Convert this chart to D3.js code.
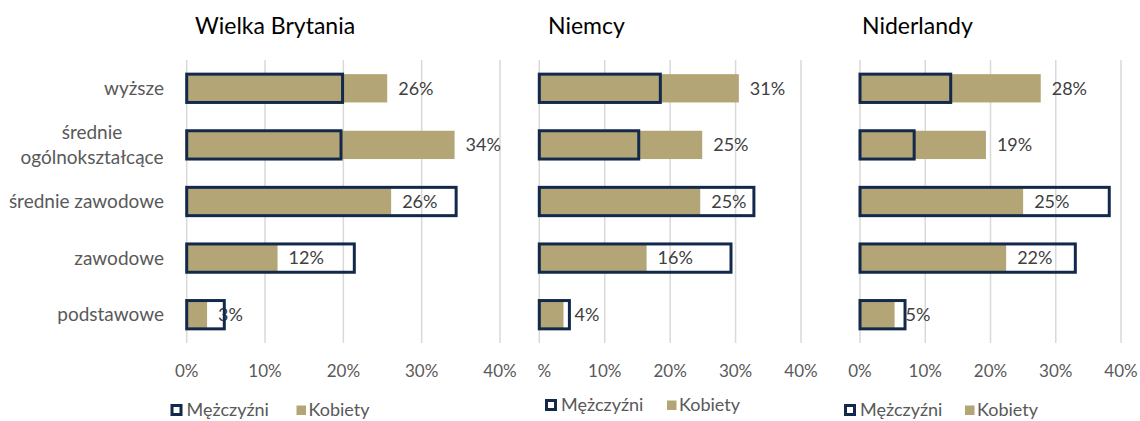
<!DOCTYPE html>
<html>
<head>
    <meta charset="utf-8">
    <title>Wykształcenie - kobiety i mężczyźni</title>
    <style>
        body { margin: 0; background: #fff; }
        svg { font-family: Lato, "Open Sans", sans-serif; }
        .grid line { stroke: #d9d9d9; stroke-width: 1.5; }
        .women { fill: #b3a576; }
        .men { fill: none; stroke: #13294b; stroke-width: 3; }
        .cat { fill: #595959; font-size: 19px; }
        .tick-label { fill: #595959; font-size: 17px; }
        .value { fill: #404040; font-size: 18px; }
        .title { fill: #000; font-size: 23px; }
        .legend text { fill: #595959; font-size: 18px; }
    </style>
</head>
<body>
<div id="chart"></div>
<script src="https://d3js.org/d3.v7.min.js"></script>
<script>
    // dane (w %)
    const categories = ["wyższe", "średnie ogólnokształcące", "średnie zawodowe", "zawodowe", "podstawowe"];
    const countries = ["Wielka Brytania", "Niemcy", "Niderlandy"];
    const seriesNames = ["Mężczyźni", "Kobiety"];
    const ticks = [0, 10, 20, 30, 40];

    const menUK = [19.9, 19.7, 34.4, 21.4, 4.8];
    const womenUK = [25.6, 34.2, 26.1, 11.6, 2.6];
    const menDE = [18.5, 15.2, 32.8, 29.3, 4.6];
    const womenDE = [30.5, 24.9, 24.6, 16.4, 3.7];
    const menNL = [13.9, 8.3, 38.2, 33.0, 6.9];
    const womenNL = [27.7, 19.3, 25.0, 22.4, 5.3];

    const men = [menUK, menDE, menNL];
    const women = [womenUK, womenDE, womenNL];

    // układ paneli
    const panels = [
        { x0: 186.7, x1: 500, clip: 0, titleX: 195, legX: 170.5, legY: 410, legGap: 126 },
        { x0: 539.3, x1: 801, clip: 537, titleX: 548, legX: 545, legY: 405, legGap: 122 },
        { x0: 860, x1: 1121, clip: 0, titleX: 862, legX: 844, legY: 410, legGap: 121 }
    ];
    const W = 1140, H = 421;
    const plotTop = 60, plotBottom = 343;

    const svg = d3.select("#chart").append("svg")
        .attr("width", W)
        .attr("height", H);

    const y = d3.scaleBand()
        .domain(categories)
        .range([plotTop, plotBottom])
        .paddingInner(0.5)
        .paddingOuter(0.25);

    // etykiety kategorii
    const cat = svg.append("g").selectAll("text")
        .data(categories)
        .join("text")
        .attr("class", "cat")
        .attr("text-anchor", "end")
        .attr("x", 164)
        .attr("y", d => y(d) + y.bandwidth() / 2)
        .attr("dy", "0.35em");
    cat.filter(d => d !== "średnie ogólnokształcące").text(d => d);
    cat.filter(d => d === "średnie ogólnokształcące").each(function() {
        const t = d3.select(this).attr("text-anchor", "middle").attr("x", 92).attr("dy", null);
        t.append("tspan").attr("x", 92).attr("dy", "-0.3em").text("średnie");
        t.append("tspan").attr("x", 92).attr("dy", "1.3em").text("ogólnokształcące");
    });

    panels.forEach((p, k) => {
        const x = d3.scaleLinear().domain([0, 40]).range([p.x0, p.x1]);
        const g = svg.append("g");

        if (p.clip) {
            svg.append("clipPath").attr("id", "clip" + k)
                .append("rect").attr("x", p.clip).attr("y", 0).attr("width", W - p.clip).attr("height", H);
            g.attr("clip-path", "url(#clip" + k + ")");
        }

        // linie siatki
        g.append("g").attr("class", "grid").selectAll("line")
            .data(ticks)
            .join("line")
            .attr("x1", d => x(d)).attr("x2", d => x(d))
            .attr("y1", plotTop).attr("y2", plotBottom);

        // etykiety osi
        g.append("g").selectAll("text")
            .data(ticks)
            .join("text")
            .attr("class", "tick-label")
            .attr("text-anchor", "middle")
            .attr("x", d => x(d))
            .attr("y", 371)
            .attr("dy", "0.35em")
            .text(d => d + "%");

        // słupki kobiet
        g.append("g").selectAll("rect")
            .data(women[k])
            .join("rect")
            .attr("class", "women")
            .attr("x", x(0))
            .attr("y", (d, i) => y(categories[i]))
            .attr("width", d => x(d) - x(0))
            .attr("height", y.bandwidth());

        // etykiety wartości
        g.append("g").selectAll("text")
            .data(women[k])
            .join("text")
            .attr("class", "value")
            .attr("x", d => x(d) + 11)
            .attr("y", (d, i) => y(categories[i]) + y.bandwidth() / 2)
            .attr("dy", "0.35em")
            .text(d => Math.round(d) + "%");

        // obrys mężczyzn
        g.append("g").selectAll("rect")
            .data(men[k])
            .join("rect")
            .attr("class", "men")
            .attr("x", x(0))
            .attr("y", (d, i) => y(categories[i]))
            .attr("width", d => x(d) - x(0))
            .attr("height", y.bandwidth());

        // tytuł
        svg.append("text")
            .attr("class", "title")
            .attr("x", p.titleX)
            .attr("y", 26)
            .attr("dy", "0.35em")
            .text(countries[k]);

        // legenda
        const leg = svg.append("g").attr("class", "legend")
            .attr("transform", `translate(${p.legX},${p.legY})`);
        leg.append("rect")
            .attr("x", 1.5).attr("y", -4.5)
            .attr("width", 9).attr("height", 9)
            .attr("fill", "#fff").attr("stroke", "#13294b").attr("stroke-width", 3);
        leg.append("text").attr("x", 16).attr("dy", "0.35em").text(seriesNames[0]);
        leg.append("rect")
            .attr("x", p.legGap).attr("y", -4.5)
            .attr("width", 9.5).attr("height", 9.5)
            .attr("class", "women");
        leg.append("text").attr("x", p.legGap + 12).attr("dy", "0.35em").text(seriesNames[1]);
    });
</script>
</body>
</html>
